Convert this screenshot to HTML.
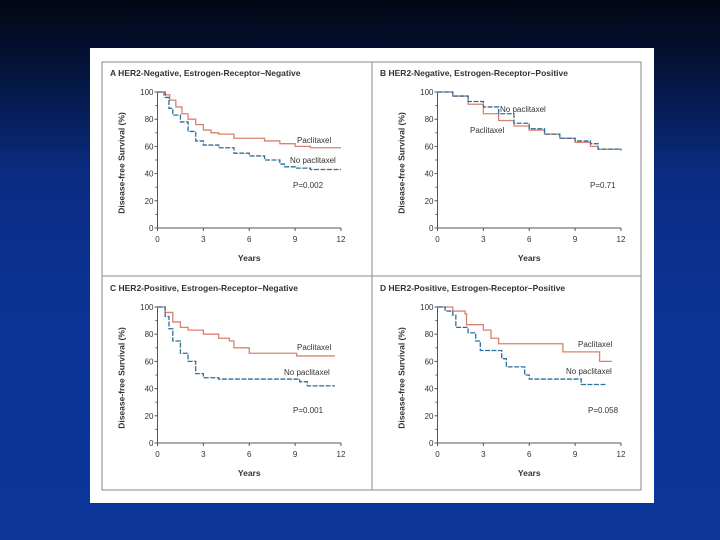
<!DOCTYPE html>
<html><head><meta charset="utf-8"><style>
html,body{margin:0;padding:0}
body{width:720px;height:540px;overflow:hidden;background:linear-gradient(to bottom,#010612 0%,#041640 14%,#0a2c82 32%,#0b3496 60%,#0b3599 100%);font-family:"Liberation Sans",sans-serif;position:relative}
#fig{position:absolute;left:90px;top:48px;width:564px;height:455px;background:#fff}
svg text{font-family:"Liberation Sans",sans-serif}
</style></head><body>
<div id="fig">
<svg id="s" width="564" height="455" viewBox="90 48 564 455" xmlns="http://www.w3.org/2000/svg">
<rect x="102" y="62" width="539" height="428" fill="none" stroke="#888" stroke-width="1"/>
<line x1="372" y1="62" x2="372" y2="490" stroke="#888"/>
<line x1="102" y1="276" x2="641" y2="276" stroke="#888"/>
</svg></div>
<script>
const xTicks=[0,3,6,9,12];
const yTicks=[0,20,40,60,80,100];
const titles=["A  HER2-Negative, Estrogen-Receptor–Negative","B  HER2-Negative, Estrogen-Receptor–Positive","C  HER2-Positive, Estrogen-Receptor–Negative","D  HER2-Positive, Estrogen-Receptor–Positive"];
const pValues=["P=0.002","P=0.71","P=0.001","P=0.058"];
const paclitaxelA=[[0,100],[0.4,98],[0.8,94],[1.2,89],[1.6,84],[2,80],[2.5,76],[3,72],[3.5,70],[4,69],[5,66],[6.5,66],[7,64],[8,62],[9,60],[10,59],[12,59]];
const noPaclitaxelA=[[0,100],[0.5,96],[0.75,88],[1,83],[1.5,78],[2,71],[2.5,64],[3,61],[4,59],[5,55],[6,53],[7,50],[8,47],[8.3,45],[9,44],[10,43],[12,43]];
const paclitaxelB=[[0,100],[1,97],[2,91],[3,84],[4,79],[5,75],[6,72],[7,69],[8,66],[9,63],[10,60],[10.5,58],[12,58]];
const noPaclitaxelB=[[0,100],[1,97],[2,93],[3,89],[4,84],[5,77],[6,73],[7,69],[8,66],[9,64],[10,62],[10.5,58],[12,57]];
const paclitaxelC=[[0,100],[0.5,96],[1,89],[1.5,85],[2,83],[3,80],[4,77],[4.7,75],[5,70],[6,66],[7,66],[9,66],[9.1,64],[11.6,64]];
const noPaclitaxelC=[[0,100],[0.5,93],[0.75,84],[1,75],[1.5,66],[2,60],[2.5,51],[3,48],[4,47],[9,47],[9.3,45],[9.8,42],[11.6,42]];
const paclitaxelD=[[0,100],[1,97],[1.8,95],[1.9,87],[2.8,87],[3,83],[3.5,77],[4,73],[8,73],[8.2,67],[10.5,67],[10.6,60],[11.4,60]];
const noPaclitaxelD=[[0,100],[0.5,97],[1,94],[1.2,85],[2,81],[2.5,75],[2.8,68],[4,68],[4.2,62],[4.5,56],[5.5,56],[5.7,50],[6,47],[9.3,47],[9.4,43],[11,43]];
const series=[[paclitaxelA,noPaclitaxelA],[paclitaxelB,noPaclitaxelB],[paclitaxelC,noPaclitaxelC],[paclitaxelD,noPaclitaxelD]];
const panels=[
 {x0:157.5,x1:341,y0:228,y1:92,ty:76,pac:[297,143],no:[290,163],p:[293,188]},
 {x0:437.5,x1:621,y0:228,y1:92,ty:76,pac:[470,133],no:[500,112],p:[590,188]},
 {x0:157.5,x1:341,y0:443,y1:307,ty:291,pac:[297,350],no:[284,375],p:[293,413]},
 {x0:437.5,x1:621,y0:443,y1:307,ty:291,pac:[578,347],no:[566,374],p:[588,413]}];
const svg=document.getElementById('s');const NS="http://www.w3.org/2000/svg";
function el(t,a,p){const e=document.createElementNS(NS,t);for(const k in a)e.setAttribute(k,a[k]);(p||svg).appendChild(e);return e;}
function txt(x,y,s,sz,extra){const e=el('text',Object.assign({x:x,y:y,'font-size':sz,fill:'#333'},extra||{}));e.textContent=s;return e;}
panels.forEach((P,i)=>{
 const g=el('g',{});
 
 
 const sx=v=>P.x0+(P.x1-P.x0)*v/12, sy=v=>P.y0+(P.y1-P.y0)*v/100;
 const lx=i%2?380:110;
 const t=txt(lx,P.ty,titles[i],8.5,{'font-weight':'bold',fill:'#333'});g.appendChild(t);
 
 
 el('line',{x1:P.x0,y1:P.y0,x2:P.x0,y2:P.y1,stroke:'#555','stroke-width':1},g);
 el('line',{x1:P.x0,y1:P.y0,x2:P.x1,y2:P.y0,stroke:'#555','stroke-width':1},g);
 yTicks.forEach(v=>{el('line',{x1:P.x0-3,y1:sy(v),x2:P.x0,y2:sy(v),stroke:'#555'},g);
  if(v<100)el('line',{x1:P.x0-2,y1:sy(v+10),x2:P.x0,y2:sy(v+10),stroke:'#555'},g);
  const l=txt(P.x0-4,sy(v)+3,String(v),8,{'text-anchor':'end'});g.appendChild(l);
  
  });
 xTicks.forEach(v=>{el('line',{x1:sx(v),y1:P.y0,x2:sx(v),y2:P.y0+3,stroke:'#555'},g);
  const l=txt(sx(v),P.y0+14,String(v),8,{'text-anchor':'middle'});g.appendChild(l);
  
  });
 const xt=txt((P.x0+P.x1)/2,P.y0+33,'Years',8.5,{'text-anchor':'middle','font-weight':'bold'});g.appendChild(xt);
 
 
 const cy=(P.y0+P.y1)/2;
 const yt=txt(P.x0-36,cy,'Disease-free Survival (%)',8.5,{'text-anchor':'middle','font-weight':'bold',transform:'rotate(-90 '+(P.x0-33)+' '+cy+')'});g.appendChild(yt);
 
 
 ['#d9826f','#2f6f9a'].forEach((c,j)=>{
  const d=series[i][j];let s='M'+sx(d[0][0])+','+sy(d[0][1]);
  for(let k=1;k<d.length;k++){s+='H'+sx(d[k][0])+'V'+sy(d[k][1]);}
  const p=el('path',{d:s,fill:'none',stroke:c,'stroke-width':1.3,'stroke-dasharray':j?'5,1.5':'none'},g);
  
  
 });
 const a=txt(P.pac[0],P.pac[1],'Paclitaxel',8,{});g.appendChild(a);
 
 
 const b=txt(P.no[0],P.no[1],'No paclitaxel',8,{});g.appendChild(b);
 
 
 const pv=txt(P.p[0],P.p[1],pValues[i],8,{});g.appendChild(pv);
 
 
});
</script>
</body></html>
